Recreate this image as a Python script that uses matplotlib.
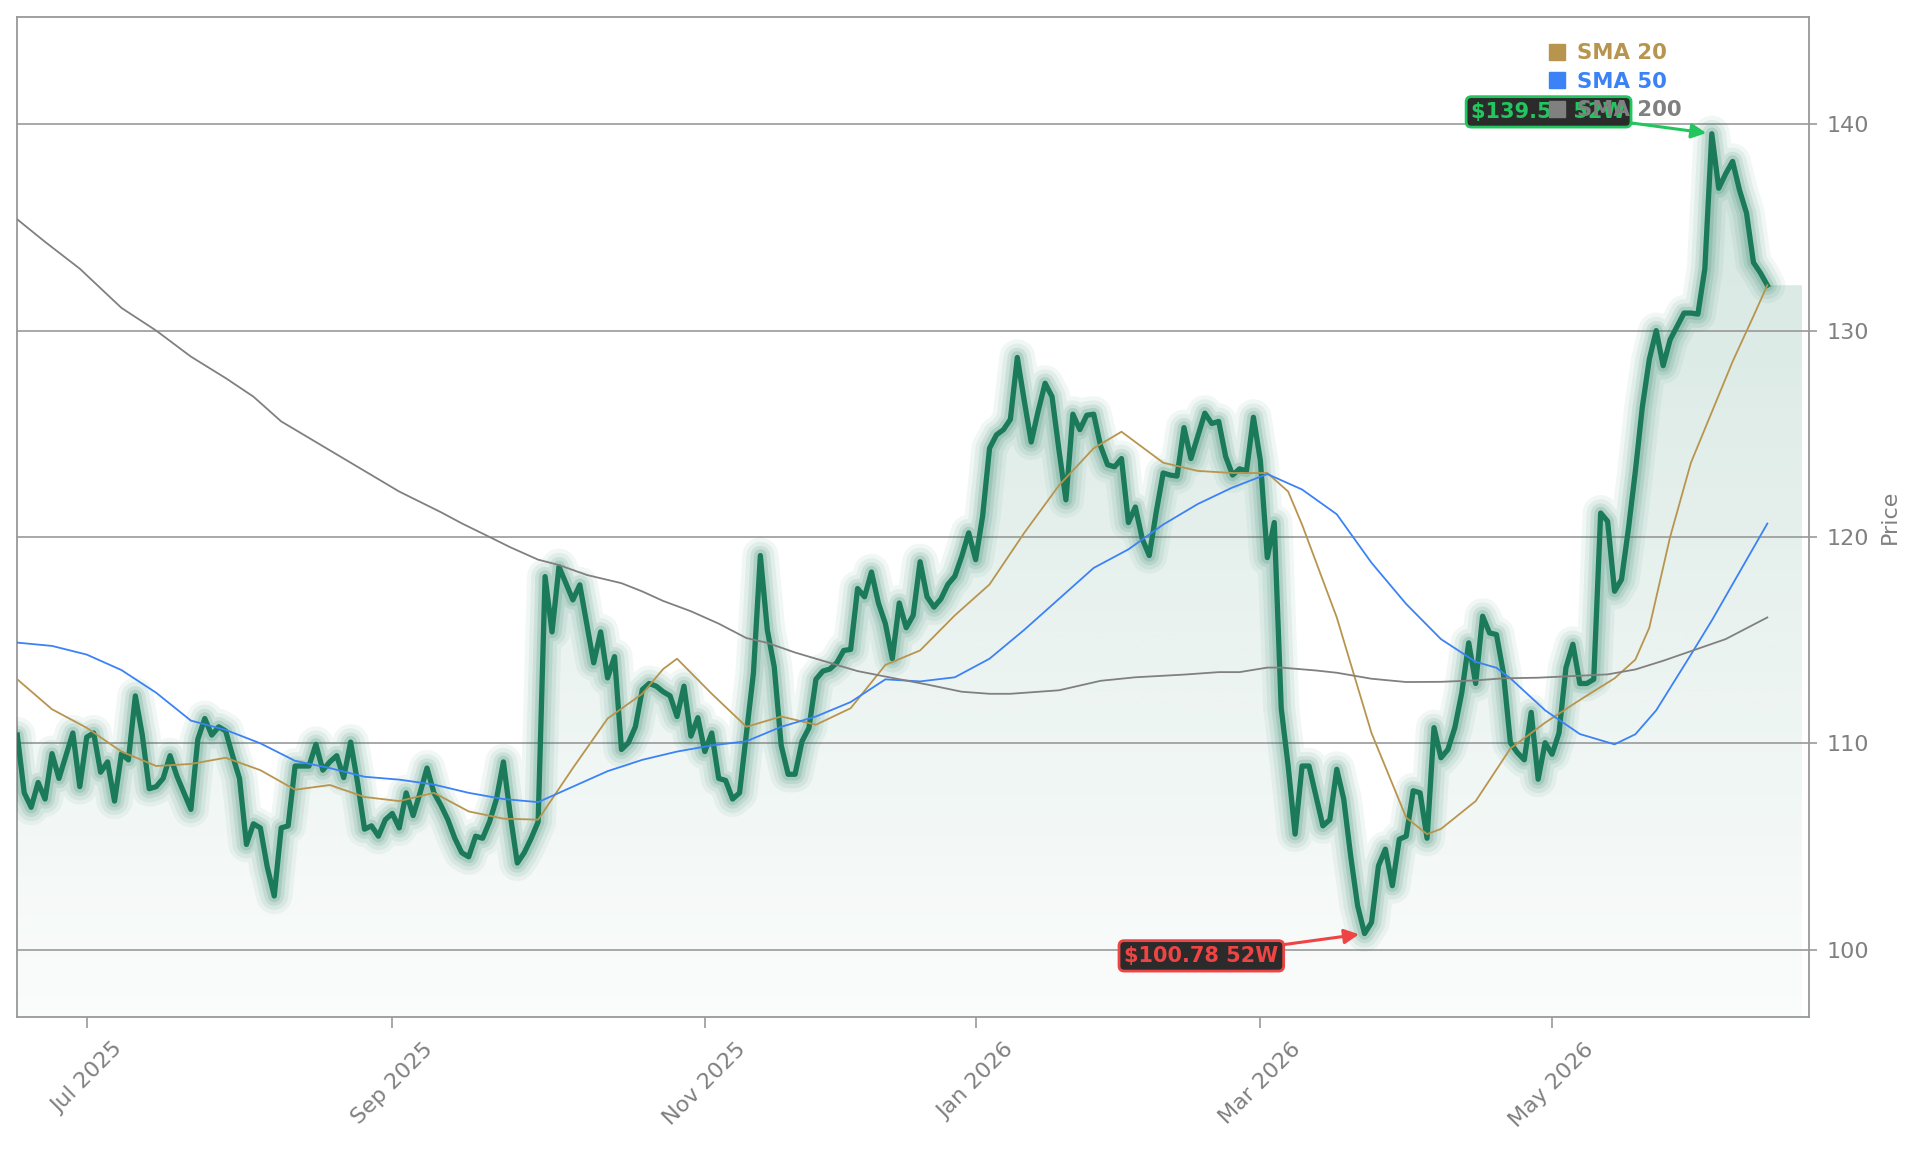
import numpy as np
import matplotlib
matplotlib.use("Agg")
import matplotlib.pyplot as plt
from matplotlib.lines import Line2D
from matplotlib.patches import Polygon

# daily closes (one value per trading day)
price = [
    110.4, 107.6, 106.9, 108.1, 107.3, 109.5, 108.3, 109.4, 110.5, 107.9,
    110.3, 110.5, 108.6, 109.1, 107.2, 109.5, 109.2, 112.3, 110.4, 107.8,
    107.9, 108.3, 109.4, 108.4, 107.6, 106.8, 110.2, 111.2, 110.4, 110.8,
    110.6, 109.4, 108.3, 105.1, 106.1, 105.9, 104.0, 102.6, 105.9, 106.0,
    108.9, 108.9, 108.9, 109.95, 108.7, 109.1, 109.4, 108.34, 110.06, 108.1,
    105.84, 106.0, 105.5, 106.3, 106.6, 105.9, 107.6, 106.5, 107.6, 108.8,
    107.6, 107.0, 106.3, 105.4, 104.7, 104.5, 105.5, 105.4, 106.2, 107.3,
    109.1, 106.5, 104.2, 104.7, 105.4, 106.2, 118.08, 115.4, 118.56, 117.76,
    116.95, 117.68, 115.8, 113.9, 115.4, 113.17, 114.2, 109.7, 110.03, 110.8,
    112.6, 112.9, 112.77, 112.5, 112.3, 111.3, 112.77, 110.35, 111.24, 109.6,
    110.5, 108.3, 108.2, 107.3, 107.6, 110.5, 113.4, 119.1, 115.5, 113.7,
    109.9, 108.5, 108.5, 110.1, 110.75, 113.1, 113.5, 113.6, 113.9, 114.5,
    114.55, 117.5, 117.1, 118.3, 116.8, 115.8, 114.1, 116.8, 115.6, 116.2,
    118.8, 117.1, 116.6, 117.0, 117.7, 118.1, 119.06, 120.2, 118.9, 121.0,
    124.3, 124.95, 125.2, 125.7, 128.7, 126.6, 124.6, 126.1, 127.45, 126.8,
    124.2, 121.8, 125.95, 125.2, 125.9, 125.95, 124.4, 123.5, 123.4, 123.8,
    120.7, 121.45, 119.9, 119.1, 121.2, 123.1, 123.0, 122.95, 125.3, 123.8,
    124.9, 126.0, 125.5, 125.6, 123.9, 123.0, 123.3, 123.2, 125.8, 123.7,
    119.0, 120.7, 111.7, 108.9, 105.6, 108.9, 108.9, 107.45, 106.0, 106.3,
    108.74, 107.3, 104.55, 102.13, 100.78, 101.32, 104.06, 104.87, 103.1, 105.35,
    105.5, 107.7, 107.6, 105.4, 110.76, 109.3, 109.7, 110.76, 112.45, 114.87,
    112.9, 116.16, 115.35, 115.27, 113.4, 110.03, 109.55, 109.2, 111.5, 108.26,
    110.03, 109.47, 110.5, 113.66, 114.8, 112.9, 112.9, 113.1, 121.16, 120.76,
    117.37, 117.94, 120.4, 123.2, 126.3, 128.6, 130.0, 128.3, 129.56, 130.2,
    130.85, 130.85, 130.8, 133.0, 139.54, 136.9, 137.6, 138.2, 136.8, 135.7,
    133.3, 132.8, 132.2,
]

# moving averages, sampled along the same day index
sma20_idx = [0, 5, 10, 15, 20, 25, 30, 35, 40, 45, 50, 55, 60, 65, 70, 75, 80, 85, 90, 93,
             95, 100, 105, 110, 115, 120, 125, 130, 135, 140, 145, 150, 155, 159, 165, 170,
             175, 180, 183, 185, 190, 195, 200, 203, 205, 210, 215, 220, 225, 230, 233, 235,
             238, 241, 247, 250, 252]
sma20 = [113.1, 111.65, 110.75, 109.6, 108.9, 109.0, 109.3, 108.7, 107.75, 107.98, 107.4,
         107.2, 107.6, 106.7, 106.35, 106.3, 108.8, 111.2, 112.4, 113.6, 114.1, 112.4, 110.8,
         111.3, 110.9, 111.7, 113.8, 114.5, 116.2, 117.7, 120.2, 122.5, 124.3, 125.1, 123.6,
         123.2, 123.1, 123.1, 122.2, 120.6, 116.1, 110.5, 106.4, 105.6, 105.85, 107.2, 109.75,
         111.0, 112.1, 113.15, 114.06, 115.6, 120.0, 123.6, 128.5, 130.7, 132.2]

sma50_idx = [0, 5, 10, 15, 20, 25, 30, 35, 40, 45, 50, 55, 60, 65, 70, 75, 80, 85, 90, 95,
             100, 105, 110, 115, 120, 125, 130, 135, 140, 145, 150, 155, 160, 165, 170, 175,
             180, 183, 185, 190, 195, 200, 205, 210, 213, 215, 220, 225, 230, 233, 236, 241,
             244, 252]
sma50 = [114.88, 114.72, 114.3, 113.55, 112.45, 111.1, 110.65, 110.0, 109.15, 108.8, 108.38,
         108.24, 108.0, 107.6, 107.3, 107.15, 107.9, 108.65, 109.2, 109.6, 109.9, 110.1, 110.8,
         111.3, 112.0, 113.1, 113.0, 113.2, 114.1, 115.5, 117.0, 118.5, 119.4, 120.6, 121.6,
         122.4, 123.05, 122.6, 122.3, 121.1, 118.75, 116.75, 115.05, 113.95, 113.66, 113.15,
         111.6, 110.45, 109.95, 110.44, 111.6, 114.3, 115.95, 120.65]

sma200_idx = [0, 4, 9, 15, 20, 25, 30, 34, 38, 42, 47, 51, 55, 58, 61, 64, 68, 71, 75, 78,
              82, 87, 90, 93, 97, 101, 105, 108, 112, 117, 121, 126, 131, 136, 140, 143, 150,
              156, 161, 168, 173, 176, 180, 182, 187, 190, 195, 200, 205, 210, 214, 219, 224,
              229, 233, 237, 246, 252]
sma200 = [135.39, 134.3, 133.0, 131.1, 130.0, 128.74, 127.7, 126.8, 125.6, 124.8, 123.8, 123.0,
          122.2, 121.7, 121.2, 120.66, 120.0, 119.5, 118.9, 118.64, 118.16, 117.76, 117.36,
          116.9, 116.4, 115.8, 115.1, 114.87, 114.4, 113.9, 113.5, 113.17, 112.85, 112.5,
          112.4, 112.4, 112.57, 113.03, 113.2, 113.33, 113.45, 113.45, 113.67, 113.67, 113.53,
          113.42, 113.13, 112.97, 112.98, 113.05, 113.15, 113.18, 113.26, 113.34, 113.58,
          114.0, 115.05, 116.1]

tick_idx = [10, 54, 99, 138, 179, 221]
tick_lbl = ['Jul 2025', 'Sep 2025', 'Nov 2025', 'Jan 2026', 'Mar 2026', 'May 2026']

GREEN = '#1a7a5a'
GOLD = '#b8954e'
BLUE = '#3b82f6'
GREY = '#808080'
AXC = '#999999'

fig = plt.figure(figsize=(19.21, 11.53), dpi=100)
ax = fig.add_axes([0.009, 0.118, 0.9327, 0.8673])

x = np.arange(len(price))
ylo, yhi = 96.74, 145.2
x_end = len(price) + 4

# gradient area under the price
verts = list(zip(x, price)) + [(x_end, price[-1]), (x_end, ylo), (0, ylo)]
clip = Polygon(verts, closed=True, transform=ax.transData, fc='none', ec='none')
ax.add_patch(clip)
img = np.zeros((256, 1, 4))
img[..., :3] = matplotlib.colors.to_rgb(GREEN)
img[..., 3] = np.linspace(0.02, 0.19, 256)[:, None]
im = ax.imshow(img, extent=[0, x_end, ylo, max(price)], origin='lower',
               aspect='auto', zorder=1, interpolation='bilinear')
im.set_clip_path(clip)

# glow + price line
for lw, a in [(26, 0.06), (20, 0.08), (14, 0.11), (9, 0.15)]:
    ax.plot(x, price, color=GREEN, lw=lw, alpha=a, solid_joinstyle='round',
            solid_capstyle='round', zorder=3)
ax.plot(x, price, color=GREEN, lw=3.8, solid_joinstyle='round', zorder=4)

ax.plot(sma20_idx, sma20, color=GOLD, lw=1.3, zorder=5)
ax.plot(sma50_idx, sma50, color=BLUE, lw=1.3, zorder=5)
ax.plot(sma200_idx, sma200, color=GREY, lw=1.3, zorder=5)

# 52 week high / low
hi = int(np.argmax(price))
lo = int(np.argmin(price))
ax.annotate(f'${price[hi]:.2f} 52W', xy=(hi, price[hi]), xytext=(hi - 23.5, price[hi] + 1.06),
            ha='center', va='center', fontsize=15, fontweight='bold', color='#22c55e',
            bbox=dict(boxstyle='round,pad=0.25', fc='#2b2b2b', ec='#22c55e', lw=2),
            arrowprops=dict(arrowstyle='-|>', color='#22c55e', lw=2.2, mutation_scale=22,
                            shrinkA=0, shrinkB=4))
ax.annotate(f'${price[lo]:.2f} 52W', xy=(lo, price[lo]), xytext=(lo - 23.5, price[lo] - 1.08),
            ha='center', va='center', fontsize=15, fontweight='bold', color='#ef4444',
            bbox=dict(boxstyle='round,pad=0.25', fc='#2b2b2b', ec='#ef4444', lw=2),
            arrowprops=dict(arrowstyle='-|>', color='#ef4444', lw=2.2, mutation_scale=22,
                            shrinkA=0, shrinkB=4))

ax.set_xlim(0, len(price) + 5)
ax.set_ylim(ylo, yhi)

ax.set_yticks([100, 110, 120, 130, 140])
ax.yaxis.tick_right()
ax.yaxis.set_label_position('right')
ax.set_ylabel('Price', fontsize=16, color=GREY, labelpad=8)
ax.tick_params(axis='y', colors=AXC, labelcolor=GREY, labelsize=16, length=5.5, width=1.2, pad=7)
ax.set_xticks(tick_idx)
ax.set_xticklabels(tick_lbl, rotation=45, ha='center')
ax.tick_params(axis='x', colors=AXC, labelcolor=GREY, labelsize=16, length=8, width=1.2, pad=8)
ax.grid(axis='y', color=AXC, lw=1.2)
ax.set_axisbelow(False)
for sp in ax.spines.values():
    sp.set_color(AXC)
    sp.set_linewidth(1.3)

handles = [Line2D([], [], ls='none', marker='s', ms=11.5, color=c) for c in (GOLD, BLUE, GREY)]
ax.legend(handles, ['SMA 20', 'SMA 50', 'SMA 200'], loc='upper left',
          bbox_to_anchor=(0.843, 0.993), frameon=False, labelcolor='linecolor',
          prop={'size': 15.3, 'weight': 'bold'}, handlelength=1.0, handletextpad=0.43,
          labelspacing=0.40, borderpad=0.4)

fig.savefig('out.png', dpi=100, facecolor='white')
